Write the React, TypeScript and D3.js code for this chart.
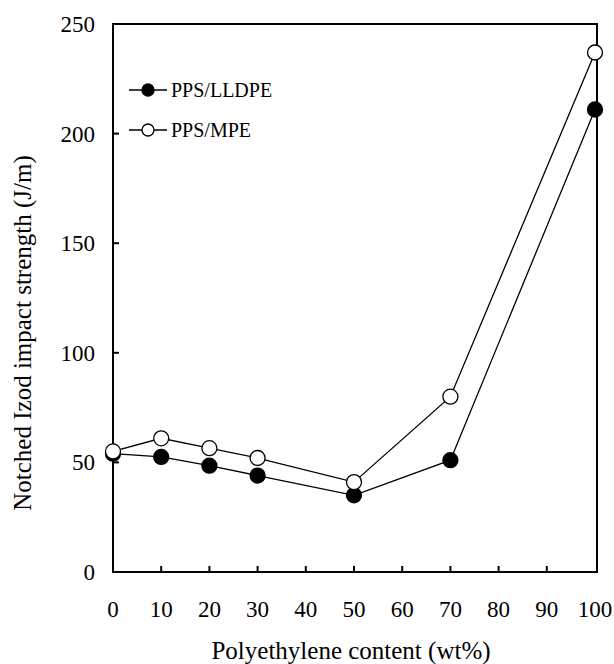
import React from "react";
import * as d3 from "d3";

const contents = [0, 10, 20, 30, 50, 70, 100];
const lldpe = [54, 52.5, 48.5, 44, 35, 51, 211];
const mpe = [55, 61, 56.5, 52, 41, 80, 237];
const xTicks = [0, 10, 20, 30, 40, 50, 60, 70, 80, 90, 100];
const yTicks = [0, 50, 100, 150, 200, 250];
const seriesNames = ["PPS/LLDPE", "PPS/MPE"];

const W = 614;
const H = 664;
const left = 113;
const right = 597;
const top = 24;
const bottom = 572;
const font = "Liberation Serif, DejaVu Serif, serif";

export default function App() {
  const x = d3.scaleLinear().domain([0, 100]).range([left, 595]);
  const y = d3.scaleLinear().domain([0, 250]).range([bottom, top]);
  const line = d3
    .line<number>()
    .x((_, i) => x(contents[i]))
    .y((d) => y(d));

  const series = [
    { name: seriesNames[0], values: lldpe, fill: "#000" },
    { name: seriesNames[1], values: mpe, fill: "#fff" },
  ];

  const txt = (size: number) => ({ fontFamily: font, fontSize: size + "px" });

  return (
    <svg width={W} height={H} style={{ position: "absolute", left: 0, top: 0, background: "#fff" }}>
      <rect x={0} y={0} width={W} height={H} fill="#fff" />
      {xTicks.slice(1, -1).map((t) => (
        <line key={"xt" + t} x1={x(t)} x2={x(t)} y1={bottom} y2={bottom - 6} stroke="#000" strokeWidth={2} />
      ))}
      {yTicks.slice(1, -1).map((t) => (
        <line key={"yt" + t} x1={left} x2={left + 6} y1={y(t)} y2={y(t)} stroke="#000" strokeWidth={2} />
      ))}
      <rect x={left} y={top} width={right - left} height={bottom - top} fill="none" stroke="#000" strokeWidth={2} />
      {xTicks.map((t) => (
        <text key={"xl" + t} x={x(t)} y={617} textAnchor="middle" style={txt(23)} fill="#000">
          {t}
        </text>
      ))}
      {yTicks.map((t) => (
        <text key={"yl" + t} x={95} y={y(t) + 8} textAnchor="end" style={txt(23)} fill="#000">
          {t}
        </text>
      ))}
      <text x={351} y={659} textAnchor="middle" style={txt(25)} fill="#000">
        Polyethylene content (wt%)
      </text>
      <text
        transform={`translate(31, 333) rotate(-90)`}
        textAnchor="middle"
        style={txt(25)}
        fill="#000"
      >
        Notched Izod impact strength (J/m)
      </text>
      {series.map((s) => (
        <path key={s.name} d={line(s.values) || ""} fill="none" stroke="#000" strokeWidth={1.3} />
      ))}
      {series.map((s) => (
        <g key={s.name + "m"}>
          {s.values.map((v, i) => (
            <circle key={i} cx={x(contents[i])} cy={y(v)} r={7.5} fill={s.fill} stroke="#000" strokeWidth={1.3} />
          ))}
        </g>
      ))}
      {series.map((s, i) => {
        const ly = 90 + i * 40;
        return (
          <g key={s.name + "l"}>
            <line x1={129} x2={167} y1={ly} y2={ly} stroke="#000" strokeWidth={1.3} />
            <circle cx={148} cy={ly} r={6} fill={s.fill} stroke="#000" strokeWidth={1.3} />
            <text x={171} y={ly + 7} style={txt(20)} fill="#000">
              {s.name}
            </text>
          </g>
        );
      })}
    </svg>
  );
}
